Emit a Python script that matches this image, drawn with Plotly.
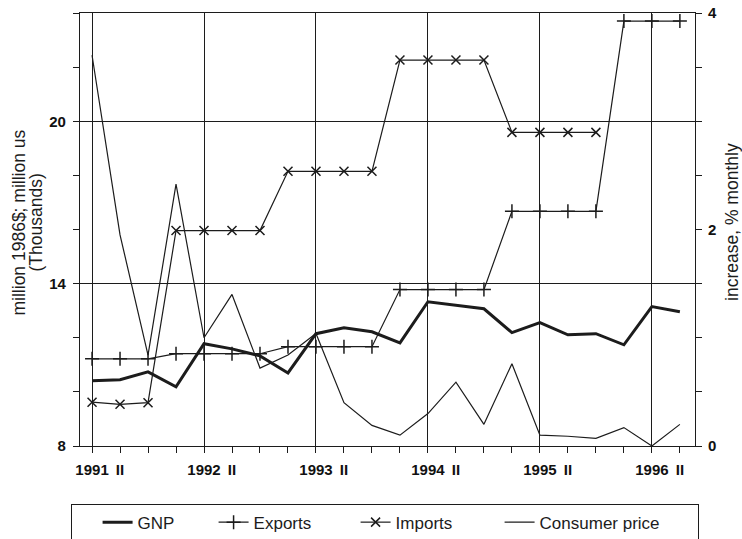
import plotly.graph_objects as go

# ---- data ----
quarters = ["1991 I", "1991 II", "1991 III", "1991 IV",
            "1992 I", "1992 II", "1992 III", "1992 IV",
            "1993 I", "1993 II", "1993 III", "1993 IV",
            "1994 I", "1994 II", "1994 III", "1994 IV",
            "1995 I", "1995 II", "1995 III", "1995 IV",
            "1996 I", "1996 II"]
tick_text = ["1991", "II", "", "", "1992", "II", "", "", "1993", "II", "", "",
             "1994", "II", "", "", "1995", "II", "", "", "1996", "II"]

gnp = [10.41, 10.45, 10.74, 10.19, 11.78, 11.59, 11.33, 10.70,
       12.15, 12.37, 12.22, 11.81, 13.33, 13.19, 13.07, 12.19,
       12.56, 12.11, 12.15, 11.74, 13.15, 12.96]
exports = [11.22, 11.22, 11.22, 11.41, 11.41, 11.41, 11.41, 11.67,
           11.67, 11.67, 11.67, 13.78, 13.78, 13.78, 13.78, 16.67,
           16.67, 16.67, 16.67, 23.70, 23.70, 23.70]
imports = [9.62, 9.54, 9.60, 15.96, 15.96, 15.96, 15.96, 18.15,
           18.15, 18.15, 18.15, 22.26, 22.26, 22.26, 22.26, 19.59,
           19.59, 19.59, 19.59, None, None, None]
consumer_price = [3.61, 1.95, 0.84, 2.42, 1.00, 1.40, 0.72, 0.84,
                  1.04, 0.40, 0.19, 0.10, 0.30, 0.59, 0.20, 0.76,
                  0.10, 0.09, 0.07, 0.17, 0.00, 0.20]

left_title = ["million 1986$; million us", "(Thousands)"]
right_title = "increase, % monthly"

x_idx = list(range(len(quarters)))
year_idx = [i for i, t in enumerate(tick_text) if t not in ("", "II")]

INK = "#1c1c1c"
FAMILY = "Arial, Liberation Sans, sans-serif"
TICKFONT = dict(family=FAMILY, size=15, color="#111111", weight=700)
TITLEFONT = dict(family=FAMILY, size=17.5, color=INK)

fig = go.Figure()
fig.add_trace(go.Scatter(
    x=x_idx, y=gnp, name="GNP", mode="lines",
    line=dict(color=INK, width=3), legendwidth=71))
fig.add_trace(go.Scatter(
    x=x_idx, y=exports, name="Exports", mode="lines+markers",
    line=dict(color=INK, width=1.2),
    marker=dict(symbol="cross-thin-open", size=10, color=INK,
                line=dict(color=INK, width=1.5)),
    legendwidth=97))
fig.add_trace(go.Scatter(
    x=x_idx, y=imports, name="Imports", mode="lines+markers",
    line=dict(color=INK, width=1.2),
    marker=dict(symbol="x-thin-open", size=9, color=INK,
                line=dict(color=INK, width=1.5)),
    legendwidth=99))
fig.add_trace(go.Scatter(
    x=x_idx, y=consumer_price, name="Consumer price", mode="lines",
    line=dict(color=INK, width=1.2), xaxis="x2", yaxis="y2",
    legendwidth=153))

# left axis title: two rotated lines beside the axis
annotations = [
    dict(text=left_title[0], xref="paper", yref="paper", x=0, y=0.5,
         xanchor="center", yanchor="middle", xshift=-62, yshift=7,
         textangle=-90, showarrow=False, font=TITLEFONT),
    dict(text=left_title[1], xref="paper", yref="paper", x=0, y=0.5,
         xanchor="center", yanchor="middle", xshift=-45, yshift=7,
         textangle=-90, showarrow=False, font=TITLEFONT),
]

# right axis title: label of an invisible vertical guide in the right margin
shapes = [
    dict(type="line", xref="paper", yref="paper",
         x0=1.0575, x1=1.0575, y0=0.317, y1=0.717,
         line=dict(width=1, color="rgba(0,0,0,0)"),
         label=dict(text=right_title, textangle=-90, font=TITLEFONT,
                    textposition="middle", xanchor="center",
                    yanchor="middle", padding=0)),
]

fig.update_layout(
    width=742, height=539,
    paper_bgcolor="white", plot_bgcolor="white",
    margin=dict(l=80, r=47, t=13, b=93, autoexpand=False),
    font=dict(family=FAMILY, size=15, color=INK),
    showlegend=True,
    legend=dict(orientation="h", x=-0.0146, xanchor="left",
                y=-0.133, yanchor="top",
                bordercolor=INK, borderwidth=1,
                font=dict(size=17),
                title=dict(text="\u00a0" * 4, side="left", font=dict(size=14))),
    annotations=annotations,
    shapes=shapes,
    xaxis=dict(range=[-0.43, 21.54], tickmode="array", tickvals=x_idx,
               ticktext=tick_text, ticks="outside", ticklen=6, tickwidth=1.2,
               tickcolor=INK, showgrid=False, showline=True, linecolor=INK,
               linewidth=1.2, mirror=True, zeroline=False,
               ticklabelstandoff=4, tickfont=TICKFONT),
    xaxis2=dict(overlaying="x", matches="x", anchor="y", tickmode="array",
                tickvals=year_idx, showticklabels=False, ticks="",
                showgrid=True, gridcolor=INK, gridwidth=1.2,
                showline=False, zeroline=False),
    yaxis=dict(range=[8, 24], tick0=8, dtick=6, ticks="outside", ticklen=6,
               tickwidth=1.2, tickcolor=INK,
               showgrid=True, gridcolor=INK, gridwidth=1.2,
               showline=True, linecolor=INK, linewidth=1.2, zeroline=False,
               minor=dict(dtick=2, tick0=8, ticks="outside", ticklen=6,
                          tickwidth=1.2, tickcolor=INK, showgrid=False),
               ticklabelstandoff=4, tickfont=TICKFONT),
    yaxis2=dict(range=[0, 4], overlaying="y", side="right", anchor="x2",
                tick0=0, dtick=2, ticks="outside", ticklen=6, tickwidth=1.2,
                tickcolor=INK, showgrid=False, showline=True, linecolor=INK,
                linewidth=1.2, zeroline=False,
                minor=dict(dtick=0.5, tick0=0, ticks="outside", ticklen=6,
                           tickwidth=1.2, tickcolor=INK, showgrid=False),
                ticklabelstandoff=3, tickfont=TICKFONT),
)

# remove the browser's default page margin so the 742x539 figure fills the window
fig.write_html(
    "out.html",
    config={"displayModeBar": False},
    post_script="document.body.style.margin='0';"
                "document.body.style.overflow='hidden';",
)
